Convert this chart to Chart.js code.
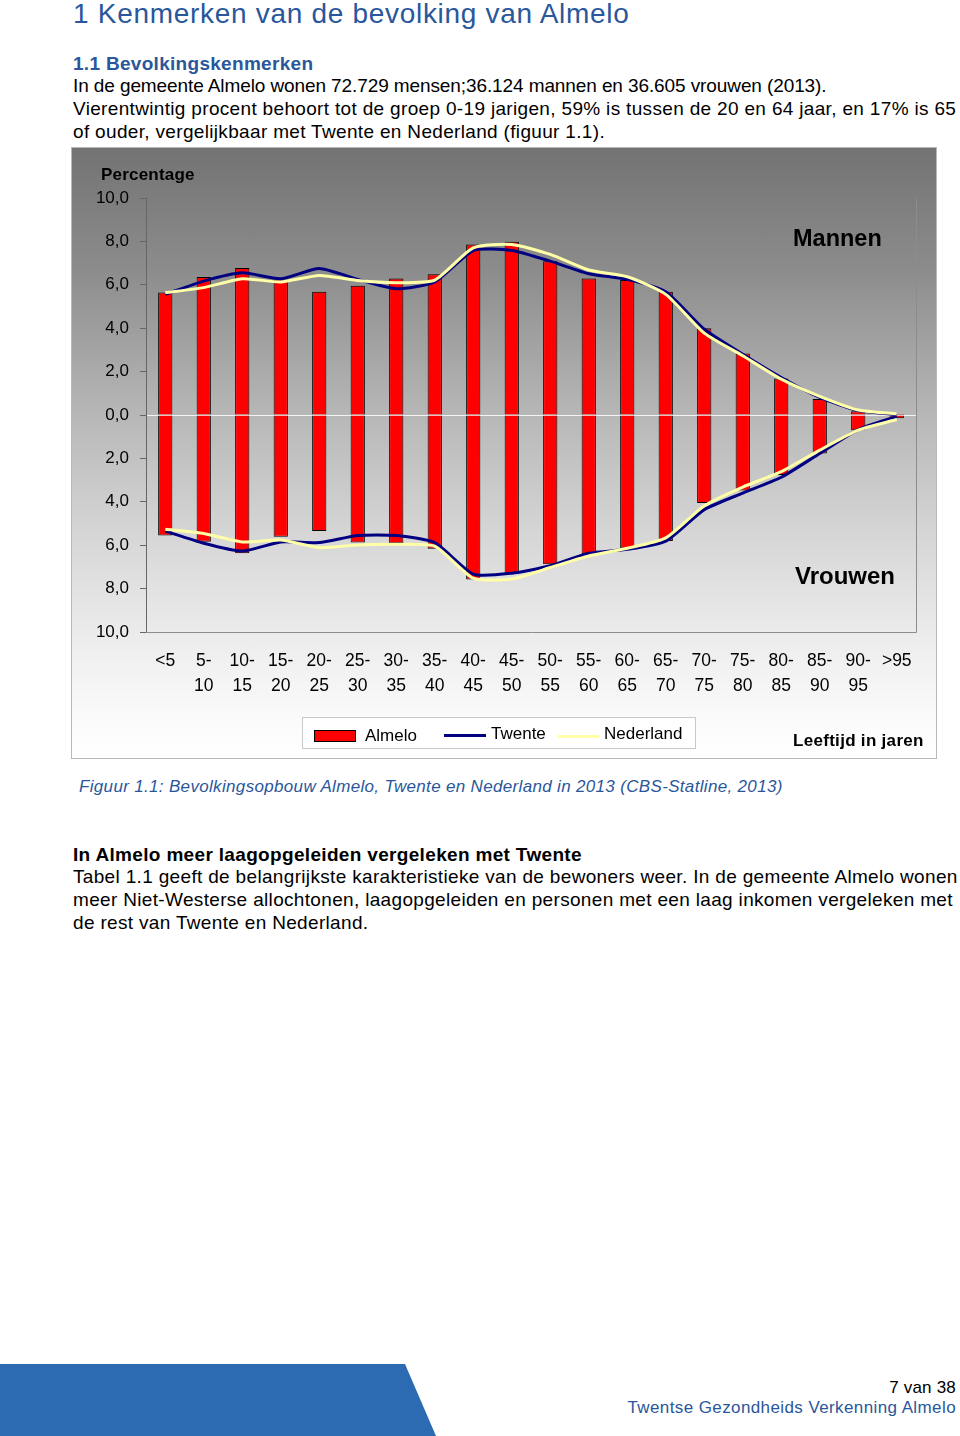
<!DOCTYPE html>
<html>
<head>
<meta charset="utf-8">
<script src="https://cdn.jsdelivr.net/npm/chart.js@4.4.1/dist/chart.umd.min.js"></script>
<style>
  html, body { margin:0; padding:0; background:#fff; }
  body { width:960px; height:1436px; position:relative; overflow:hidden; font-family:"Liberation Sans", Arial, sans-serif; }
  .t { position:absolute; white-space:nowrap; line-height:1; }
  .b { font-size:19px; letter-spacing:0.33px; color:#000; }
  #chartBox { position:absolute; left:71px; top:147px; width:864px; height:610px; border:1px solid #b8b8b8;
    background:linear-gradient(to bottom, #737373 0%, #8c8c8c 20%, #b4b4b4 42%, #d4d4d4 62%, #ececec 80%, #fafafa 93%, #ffffff 100%); }
  #chartBox canvas { position:absolute; left:0; top:0; }
  .legend { position:absolute; left:230px; top:569px; width:392px; height:30px; background:#fff; border:1px solid #c8c8c8; }
  .footer { position:absolute; left:0; top:1364px; width:436px; height:72px; background:#2c6bb1; clip-path:polygon(0 0, 405px 0, 436px 72px, 0 72px); }
</style>
</head>
<body>
<div class="t" style="left:73px; top:0px; font-size:28px; letter-spacing:0.7px; color:#2a579b;">1 Kenmerken van de bevolking van Almelo</div>
<div class="t" style="left:73px; top:54px; font-size:19px; letter-spacing:0.3px; font-weight:bold; color:#2a579b;">1.1 Bevolkingskenmerken</div>
<div class="t b" style="left:73px; top:76px; letter-spacing:-0.1px;">In de gemeente Almelo wonen 72.729 mensen;36.124 mannen en 36.605 vrouwen (2013).</div>
<div class="t b" style="left:73px; top:99px;">Vierentwintig procent behoort tot de groep 0-19 jarigen, 59% is tussen de 20 en 64 jaar, en 17% is 65</div>
<div class="t b" style="left:73px; top:122px;">of ouder, vergelijkbaar met Twente en Nederland (figuur 1.1).</div>

<div id="chartBox">
  <canvas id="c" width="864" height="610"></canvas>
  <div class="t" style="left:29px; top:18px; font-size:17px; letter-spacing:0.2px; font-weight:bold;">Percentage</div>
  <div class="t" style="left:721px; top:79px; font-size:23.5px; font-weight:bold;">Mannen</div>
  <div class="t" style="left:723px; top:416px; font-size:24px; font-weight:bold;">Vrouwen</div>
  <div class="legend">
    <div style="position:absolute; left:11px; top:12px; width:40px; height:10px; background:#ff0000; border:1px solid #000;"></div>
    <div class="t" style="left:62px; top:9px; font-size:17px;">Almelo</div>
    <div style="position:absolute; left:141px; top:16px; width:42px; height:3px; background:#000080;"></div>
    <div class="t" style="left:188px; top:7px; font-size:17px;">Twente</div>
    <div style="position:absolute; left:255px; top:17px; width:42px; height:3px; background:#ffffa8;"></div>
    <div class="t" style="left:301px; top:7px; font-size:17px;">Nederland</div>
  </div>
  <div class="t" style="left:721px; top:584px; font-size:17px; letter-spacing:0.3px; font-weight:bold;">Leeftijd in jaren</div>
</div>

<div class="t" style="left:79px; top:778px; font-size:17px; letter-spacing:0.33px; font-style:italic; color:#2a579b;">Figuur 1.1: Bevolkingsopbouw Almelo, Twente en Nederland in 2013 (CBS-Statline, 2013)</div>
<div class="t b" style="left:73px; top:845px; font-weight:bold;">In Almelo meer laagopgeleiden vergeleken met Twente</div>
<div class="t b" style="left:73px; top:867px;">Tabel 1.1 geeft de belangrijkste karakteristieke van de bewoners weer. In de gemeente Almelo wonen</div>
<div class="t b" style="left:73px; top:890px;">meer Niet-Westerse allochtonen, laagopgeleiden en personen met een laag inkomen vergeleken met</div>
<div class="t b" style="left:73px; top:913px;">de rest van Twente en Nederland.</div>

<div class="footer"></div>
<div class="t" style="right:4px; top:1379px; font-size:17px; letter-spacing:0.2px; color:#000;">7 van 38</div>
<div class="t" style="right:4px; top:1399px; font-size:17px; letter-spacing:0.4px; color:#2a579b;">Twentse Gezondheids Verkenning Almelo</div>

<script>
// Age groups (two-line labels)
const categories = [["<5",""],["5-","10"],["10-","15"],["15-","20"],["20-","25"],["25-","30"],["30-","35"],["35-","40"],["40-","45"],["45-","50"],["50-","55"],["55-","60"],["60-","65"],["65-","70"],["70-","75"],["75-","80"],["80-","85"],["85-","90"],["90-","95"],[">95",""]];
// percentages (men upward, women drawn downward)
const almeloMannen    = [5.64,6.36,6.77,6.25,5.68,5.96,6.29,6.49,7.86,7.98,7.09,6.29,6.22,5.68,4.00,2.83,1.68,0.74,0.17,0.05];
const almeloVrouwen   = [5.55,5.84,6.37,5.61,5.35,5.88,5.91,6.16,7.58,7.33,6.88,6.42,6.14,5.81,4.05,3.48,2.76,1.77,0.70,0.15];
const twenteMannen    = [5.56,6.17,6.55,6.28,6.75,6.25,5.82,6.13,7.58,7.58,7.09,6.51,6.25,5.68,3.95,2.80,1.73,0.81,0.20,0.02];
const twenteVrouwen   = [5.35,5.91,6.27,5.85,5.88,5.55,5.55,5.88,7.33,7.29,6.95,6.37,6.19,5.81,4.36,3.60,2.87,1.77,0.67,0.06];
const nederlandMannen = [5.64,5.87,6.28,6.13,6.43,6.20,6.10,6.22,7.70,7.86,7.40,6.68,6.37,5.56,3.77,2.73,1.65,0.86,0.23,0.05];
const nederlandVrouwen= [5.27,5.46,5.85,5.76,6.11,5.99,5.96,6.04,7.52,7.56,7.03,6.50,6.14,5.66,4.18,3.32,2.61,1.62,0.70,0.21];
const yTicks = [-10,-8,-6,-4,-2,0,2,4,6,8,10];
</script>
<script>
const neg = a => a.map(v => -v);
const frame = {
  id:'frame',
  beforeDatasetsDraw(chart){
    const {ctx, chartArea:a} = chart;
    ctx.save();
    ctx.strokeStyle = '#8c8c8c'; ctx.lineWidth = 1;
    ctx.beginPath();
    ctx.moveTo(a.right+0.5, a.top); ctx.lineTo(a.right+0.5, a.bottom+0.5); ctx.lineTo(a.left, a.bottom+0.5);
    ctx.stroke();
    ctx.restore();
  }
};
const barOpts = { backgroundColor:'#ff0000', borderColor:'#000', borderWidth:1, barPercentage:0.37, categoryPercentage:1, order:10 };
const lineOpts = (c, o) => ({ type:'line', borderColor:c, borderWidth:3, pointRadius:0, tension:0.2, fill:false, order:o });
new Chart(document.getElementById('c'), {
  type:'bar',
  data:{
    labels: categories,
    datasets:[
      Object.assign({label:'Almelo', data:almeloMannen}, barOpts),
      Object.assign({label:'Almelo V', data:neg(almeloVrouwen)}, barOpts),
      Object.assign({label:'Twente', data:twenteMannen}, lineOpts('#000080',2)),
      Object.assign({label:'Twente V', data:neg(twenteVrouwen)}, lineOpts('#000080',2)),
      Object.assign({label:'Nederland', data:nederlandMannen}, lineOpts('#ffffa8',1)),
      Object.assign({label:'Nederland V', data:neg(nederlandVrouwen)}, lineOpts('#ffffa8',1))
    ]
  },
  options:{
    responsive:false, animation:false,
    layout:{ padding:{ left:0, right:20, top:50, bottom:0 } },
    plugins:{ legend:{display:false}, tooltip:{enabled:false} },
    scales:{
      x:{ stacked:true, offset:true,
        grid:{ display:false, drawTicks:false },
        border:{ display:false },
        ticks:{ color:'#000', font:{ family:'Liberation Sans', size:17.5, lineHeight:1.4 }, padding:17, maxRotation:0, autoSkip:false },
        afterFit(s){ s.height = 126; }
      },
      y:{ stacked:false, min:-10, max:10,
        afterBuildTicks(s){ s.ticks = yTicks.map(v => ({value:v})); },
        afterFit(s){ s.width = 74; },
        grid:{ drawOnChartArea:true, color: c => c.tick && c.tick.value === 0 ? 'rgba(255,255,255,0.85)' : 'rgba(0,0,0,0)', tickColor:'#666', tickLength:6, lineWidth:1 },
        border:{ display:true, color:'#666', width:1 },
        ticks:{ color:'#000', font:{ family:'Liberation Sans', size:17 }, padding:11,
          callback: v => Math.abs(v).toFixed(1).replace('.', ',') }
      }
    }
  },
  plugins:[frame]
});
</script>
</body>
</html>
